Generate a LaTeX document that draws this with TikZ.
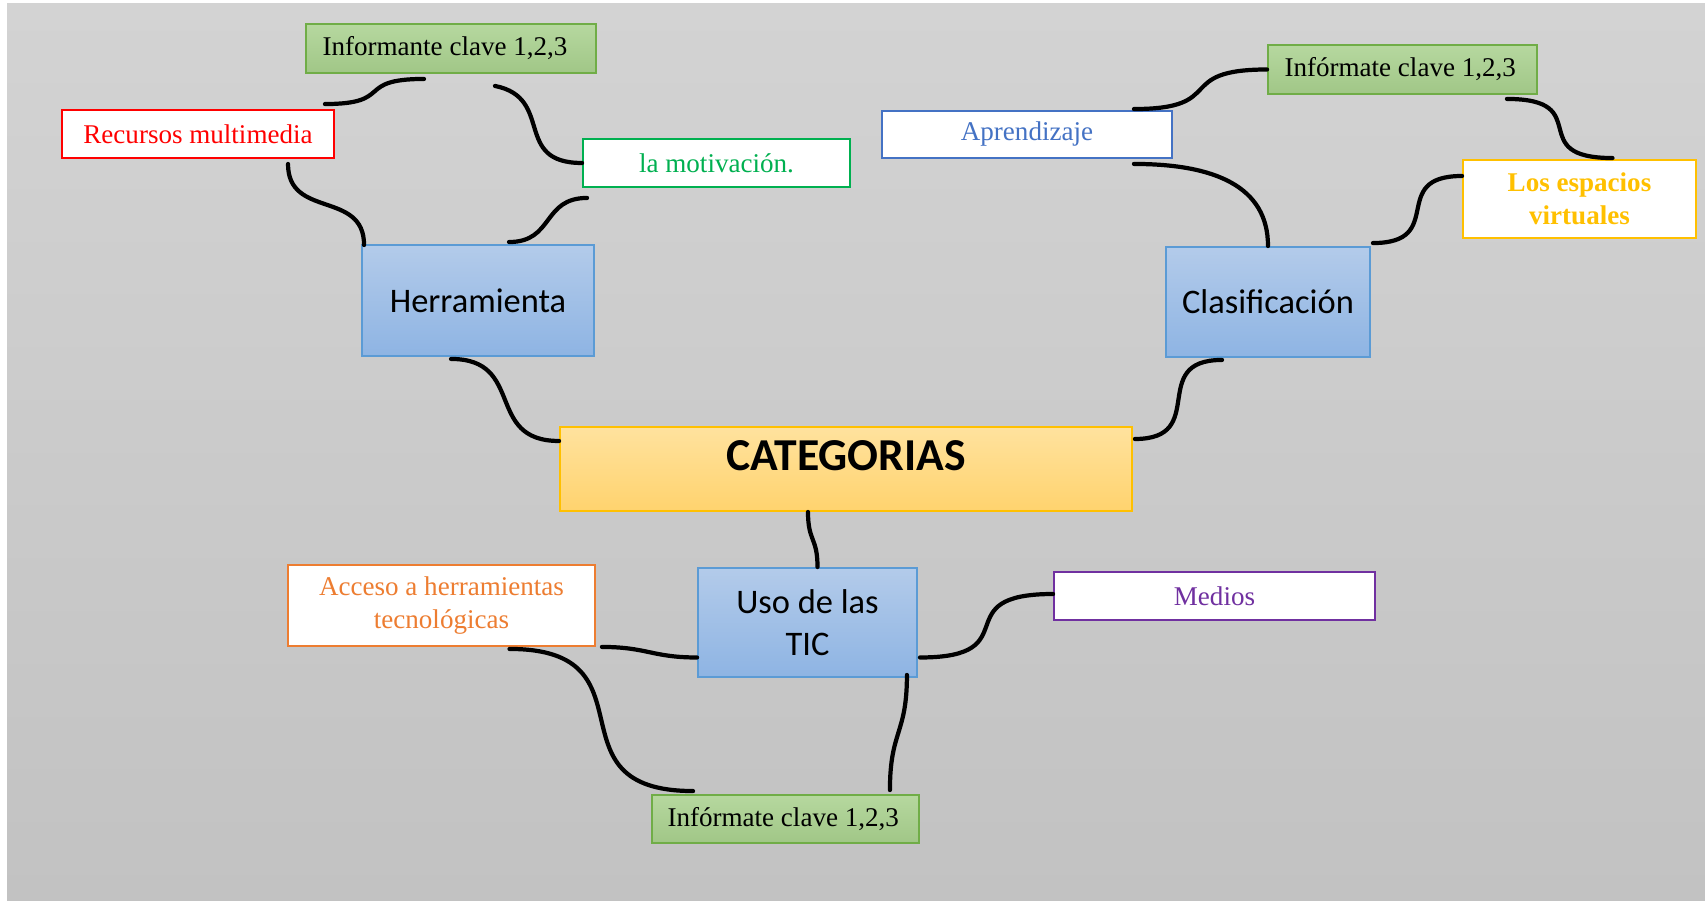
\documentclass[tikz,border=0pt]{standalone}
\usepackage{fontspec}
\setmainfont{Liberation Serif}
\newfontfamily\calibri{Carlito}
\definecolor{bgtop}{HTML}{D3D3D3}
\definecolor{bgbot}{HTML}{C2C2C2}
\definecolor{keyfill}{HTML}{A9D18E}
\definecolor{keyline}{HTML}{70AD47}
\definecolor{bluetop}{HTML}{B3CBEA}
\definecolor{bluebot}{HTML}{8EB4E3}
\definecolor{blueline}{HTML}{5B9BD5}
\definecolor{goldtop}{HTML}{FFE29E}
\definecolor{goldbot}{HTML}{FFD36E}
\definecolor{goldline}{HTML}{FFC000}
\definecolor{motgreen}{HTML}{00B050}
\definecolor{aprblue}{HTML}{4472C4}
\definecolor{accorange}{HTML}{ED7D31}
\definecolor{medpurple}{HTML}{7030A0}
\tikzset{
  smallbox/.style={rectangle, line width=1.1pt, fill=white, inner sep=2pt,
    align=center, font=\fontsize{15.4}{18.5}\selectfont},
  keybox/.style={smallbox, draw=keyline, top color=keyfill!85!white,
    bottom color=keyfill!95!black, align=flush left},
  catbox/.style={rectangle, line width=1.1pt, draw=blueline, top color=bluetop,
    bottom color=bluebot, align=center, inner sep=2pt,
    font=\calibri\fontsize{19.6}{23.8}\selectfont},
  link/.style={line width=2.4pt, line cap=round}
}
\begin{document}
\begin{tikzpicture}[x=0.02cm, y=-0.02cm]
\useasboundingbox (0,0) rectangle (1705,901);
\fill[white] (0,0) rectangle (1705,901);
\shade[top color=bgtop, bottom color=bgbot] (7,4) rectangle (1705,901);
% recuadros
\node[keybox, minimum width=5.8cm, minimum height=0.98cm, text width=5.14cm] (informante) at (451,48.5) {Informante clave 1,2,3};
\node[smallbox, draw=red, text=red, minimum width=5.44cm, minimum height=0.96cm] (recursos) at (198,134) {Recursos multimedia};
\node[smallbox, draw=motgreen, text=motgreen, minimum width=5.34cm, minimum height=0.96cm] (motivacion) at (716.5,163) {la motivación.};
\node[catbox, minimum width=4.64cm, minimum height=2.22cm] (herramienta) at (478,300.5) {Herramienta};
\node[smallbox, draw=aprblue, text=aprblue, minimum width=5.8cm, minimum height=0.94cm] (aprendizaje) at (1027,134.5) {Aprendizaje};
\node[keybox, minimum width=5.38cm, minimum height=0.98cm, text width=4.72cm] (informateTR) at (1402.5,69.5) {Infórmate clave 1,2,3};
\node[smallbox, draw=goldline, text=goldline, font=\fontsize{15.4}{18.5}\selectfont\bfseries, minimum width=4.66cm, minimum height=1.56cm] (espacios) at (1579.5,199) {Los espacios\\virtuales};
\node[catbox, minimum width=4.08cm, minimum height=2.2cm] (clasificacion) at (1268,302) {Clasificación};
\node[rectangle, line width=1.1pt, draw=goldline, top color=goldtop, bottom color=goldbot,
  minimum width=11.44cm, minimum height=1.68cm, inner sep=2pt, text height=0.6cm, text depth=0.55cm,
  font=\calibri\fontsize{26}{30}\selectfont\bfseries] (categorias) at (846,469) {CATEGORIAS};
\node[catbox, minimum width=4.38cm, minimum height=2.18cm] (uso) at (807.5,622.5) {Uso de las\\TIC};
\node[smallbox, draw=accorange, text=accorange, minimum width=6.14cm, minimum height=1.62cm] (acceso) at (441.5,605.5) {Acceso a herramientas\\tecnológicas};
\node[smallbox, draw=medpurple, text=medpurple, minimum width=6.42cm, minimum height=0.96cm] (medios) at (1214.5,596) {Medios};
\node[keybox, minimum width=5.34cm, minimum height=0.96cm, text width=4.72cm] (informateB) at (785.5,819) {Infórmate clave 1,2,3};
% conectores
\draw[link] ([shift={(-10,-5)}]recursos.north east) .. controls +(70,0) and +(-70,0) .. ([shift={(-27,5)}]informante.south);
\draw[link] ([shift={(44,12)}]informante.south) .. controls +(60,12) and +(-70,0) .. (motivacion.west);
\draw[link] ([shift={(90,5)}]recursos.south) .. controls +(0,55) and +(0,-55) .. ([shift={(3,1)}]herramienta.north west);
\draw[link] ([shift={(5,10)}]motivacion.south west) .. controls +(-45,0) and +(45,0) .. ([shift={(31,-2)}]herramienta.north);
\draw[link] ([shift={(-27,2)}]herramienta.south) .. controls +(75,0) and +(-75,0) .. ([shift={(0,-28)}]categorias.west);
\draw[link] ([shift={(-46,2)}]clasificacion.south) .. controls +(-75,0) and +(75,0) .. ([shift={(2,-30)}]categorias.east);
\draw[link] ([shift={(-39,-1)}]aprendizaje.north east) .. controls +(95,0) and +(-95,0) .. (informateTR.west);
\draw[link] ([shift={(-31,4)}]informateTR.south east) .. controls +(90,0) and +(-90,0) .. ([shift={(33,-1)}]espacios.north);
\draw[link] ([shift={(-39,5)}]aprendizaje.south east) .. controls +(80,0) and +(0,-60) .. (clasificacion.north);
\draw[link] ([shift={(0,-23)}]espacios.west) .. controls +(-75,0) and +(75,0) .. ([shift={(2,-3)}]clasificacion.north east);
\draw[link] ([shift={(-38,0)}]categorias.south) .. controls +(0,30) and +(0,-30) .. ([shift={(10,0)}]uso.north);
\draw[link] ([shift={(6,0)}]acceso.south east) .. controls +(45,0) and +(-45,0) .. ([shift={(0,35)}]uso.west);
\draw[link] ([shift={(2,35)}]uso.east) .. controls +(110,0) and +(-110,0) .. ([shift={(0,-2)}]medios.west);
\draw[link] ([shift={(68,2)}]acceso.south) .. controls +(150,0) and +(-150,0) .. ([shift={(42,-3)}]informateB.north west);
\draw[link] ([shift={(-11,-3)}]uso.south east) .. controls +(0,60) and +(0,-60) .. ([shift={(-30,-4)}]informateB.north east);
\end{tikzpicture}
\end{document}
